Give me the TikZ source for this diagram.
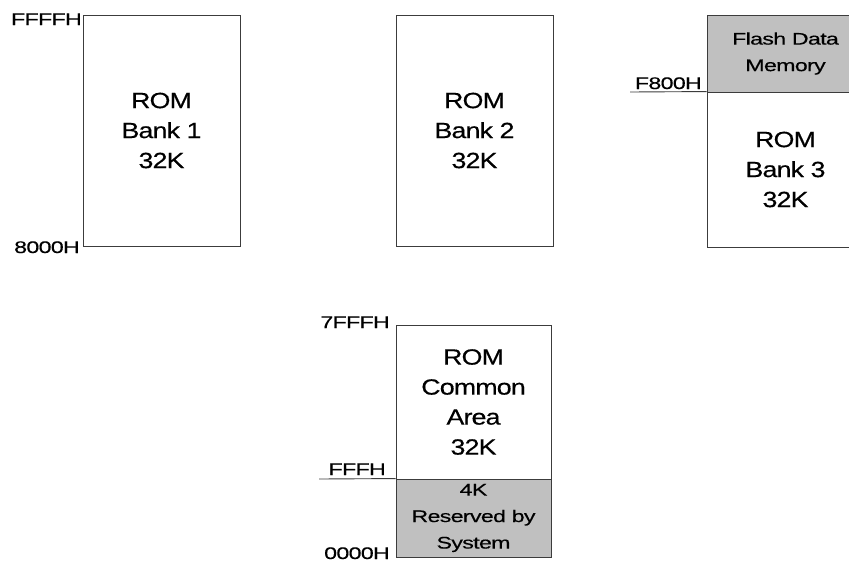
\documentclass[tikz,border=0pt]{standalone}
\usepackage{fontspec}
\newfontfamily\bigf[FakeStretch=1.22,LetterSpace=-4,FakeBold=0.4]{Liberation Sans}
\newfontfamily\smallf[FakeStretch=1.38,LetterSpace=-4,FakeBold=0.4]{Liberation Sans}
\definecolor{memgray}{RGB}{192,192,192}
\definecolor{edge}{RGB}{60,60,60}
\tikzset{
  membox/.style={draw=edge, line width=0.9pt, inner sep=0pt, minimum width=157pt, align=center,
    font=\bigf\fontsize{22}{30}\selectfont},
  graybox/.style={membox, fill=memgray, font=\smallf\fontsize{16.8}{26.5}\selectfont},
  addr/.style={anchor=base east, inner sep=0pt, font=\smallf\fontsize{16.8}{20}\selectfont},
  sepline/.style={draw=edge, line width=0.9pt}
}
\begin{document}
\begin{tikzpicture}[x=1pt,y=-1pt]
\clip (0,0) rectangle (849,563);
\fill[white] (0,0) rectangle (849,563);
% bank 1
\node[membox, minimum height=231pt] (b1) at (161.5,130.5) {ROM\\Bank 1\\32K};
% bank 2
\node[membox, minimum height=231pt] (b2) at (474.5,130.5) {ROM\\Bank 2\\32K};
% bank 3
\node[graybox, minimum height=77pt] (flash) at (785.5,53.5) {Flash Data\\Memory};
\node[membox, minimum height=155pt] (b3) at (785.5,169.5) {ROM\\Bank 3\\32K};
% common area
\node[membox, minimum width=155pt, minimum height=154pt] (common) at (473.5,402) {ROM\\Common\\Area\\32K};
\node[graybox, minimum width=155pt, minimum height=78pt] (resv) at (473.5,518) {4K\\Reserved by\\System};
% address labels
\node[addr] (aFFFFF) at (82,25) {FFFFH};
\node[addr] (a8000) at (80,253) {8000H};
\node[addr] (aF800) at (702,89) {F800H};
\node[addr] (a7FFF) at (390,328) {7FFFH};
\node[addr] (aFFF) at (386,475) {FFFH};
\node[addr] (a0000) at (390,559) {0000H};
% separator lines
\coordinate (f8l) at (630,92);
\draw[sepline] (f8l) -- (b3.north west);
\coordinate (fffl) at (319,479);
\draw[sepline] (fffl) -- (resv.north west);
\end{tikzpicture}
\end{document}
